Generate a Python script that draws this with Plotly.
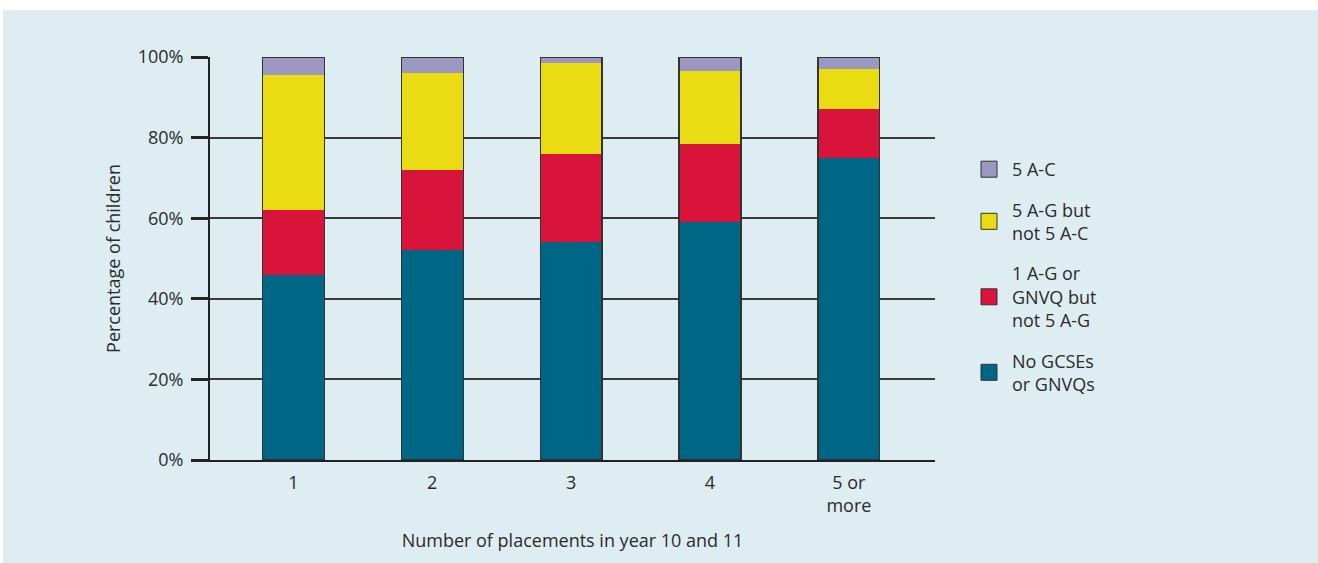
import plotly.graph_objects as go

categories = ["1", "2", "3", "4", "5 or<br>more"]
no_gcse = [46, 52, 54, 59, 75]
one_ag = [16, 20, 22, 19.5, 12]
five_ag = [33.5, 24, 22.5, 18, 10]
five_ac = [4.5, 4, 1.5, 3.5, 3]
y_ticks = [0, 20, 40, 60, 80, 100]
y_tick_labels = ["0%", "20%", "40%", "60%", "80%", "100%"]

series = [
    ("No GCSEs<br>or GNVQs", no_gcse, "#006685"),
    ("1 A-G or<br>GNVQ but<br>not 5 A-G", one_ag, "#d9143a"),
    ("5 A-G but<br>not 5 A-C", five_ag, "#eadc12"),
    ("5 A-C", five_ac, "#9a97c0"),
]
totals = [sum(v) for v in zip(no_gcse, one_ag, five_ag, five_ac)]

W, H = 1318, 563
L, R, T, B = 210, 383, 57, 103
pw, ph = W - L - R, H - T - B
def px_x(p):
    return (p - L) / pw
def px_y(p):
    return (H - B - p) / ph

BG = "#deedf2"
FONT = "Open Sans"
TXT = "#2b2b2b"
FS = 18
BAR_W = 0.446

fig = go.Figure()
for i, (name, vals, col) in enumerate(series):
    fig.add_trace(go.Bar(x=categories, y=vals, name=name, width=BAR_W,
                         marker=dict(color=col, line=dict(width=0)),
                         showlegend=False))
# outline of each whole bar
fig.add_trace(go.Bar(x=categories, y=totals, width=BAR_W, xaxis="x2",
                     marker=dict(color="rgba(0,0,0,0)", line=dict(color="#333", width=1.2)),
                     showlegend=False, hoverinfo="skip"))
# legend entries
for i, (name, vals, col) in enumerate(series):
    fig.add_trace(go.Scatter(x=[None], y=[None], mode="markers", name=name,
                             legendgroup=f"g{i}", legendrank=10 - i,
                             marker=dict(symbol="square", size=16, color=col,
                                         line=dict(color="#333", width=1))))

fig.update_layout(
    width=W, height=H,
    margin=dict(l=L, r=R, t=T, b=B),
    barmode="stack",
    paper_bgcolor="white",
    plot_bgcolor=BG,
    font=dict(family=FONT, size=FS, color=TXT),
    showlegend=True,
    legend=dict(x=px_x(966), y=px_y(151), xanchor="left", yanchor="top",
                bgcolor="rgba(0,0,0,0)", font=dict(size=FS, color=TXT),
                tracegroupgap=14, itemsizing="trace", itemwidth=36),
    xaxis=dict(type="category", range=[-0.6, 4.62], showgrid=False,
               showline=True, linecolor="#222", linewidth=2,
               ticks="outside", ticklen=5, tickcolor="rgba(0,0,0,0)",
               tickfont=dict(size=FS, color=TXT),
               title=dict(text="Number of placements in year 10 and 11",
                          font=dict(size=FS, color=TXT), standoff=18)),
    xaxis2=dict(type="category", range=[-0.6, 4.62], overlaying="x",
                visible=False, matches="x"),
    yaxis=dict(range=[0, 100], tickmode="array", tickvals=y_ticks,
               ticktext=y_tick_labels,
               showgrid=True, gridcolor="#3a3a3a", gridwidth=1.5,
               showline=True, linecolor="#222", linewidth=2,
               ticks="outside", ticklen=17, tickwidth=2.5, tickcolor="#222",
               ticklabelstandoff=4, zeroline=False,
               tickfont=dict(size=FS, color=TXT),
               title=dict(text="Percentage of children",
                          font=dict(size=FS, color=TXT), standoff=12)),
    shapes=[dict(type="rect", xref="paper", yref="paper", layer="below",
                 x0=px_x(3), x1=px_x(W + 20), y0=px_y(H + 20), y1=px_y(10),
                 fillcolor=BG, line=dict(width=0))],
)

fig.write_html("out.html", config={"displayModeBar": False},
               post_script="document.body.style.margin='0';")
